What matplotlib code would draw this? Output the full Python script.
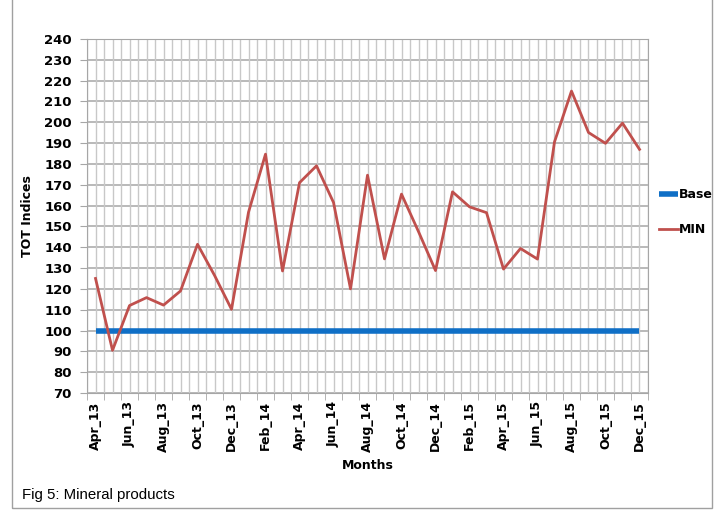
import matplotlib.pyplot as plt
import numpy as np
from matplotlib.patches import Rectangle

months = ['Apr_13', 'May_13', 'Jun_13', 'Jul_13', 'Aug_13', 'Sep_13', 'Oct_13', 'Nov_13', 'Dec_13',
          'Jan_14', 'Feb_14', 'Mar_14', 'Apr_14', 'May_14', 'Jun_14', 'Jul_14', 'Aug_14', 'Sep_14',
          'Oct_14', 'Nov_14', 'Dec_14', 'Jan_15', 'Feb_15', 'Mar_15', 'Apr_15', 'May_15', 'Jun_15',
          'Jul_15', 'Aug_15', 'Sep_15', 'Oct_15', 'Nov_15', 'Dec_15']
base = [100] * len(months)
mineral = [125, 90.5, 112, 115.8, 112.2, 119, 141.4, 126.5, 110.2,
           156.8, 184.7, 128.6, 171, 179.1, 161.5, 120, 174.6, 134.4,
           165.5, 147.5, 128.8, 166.6, 159.4, 156.6, 129.5, 139.4, 134.3,
           190.6, 215, 195.1, 189.9, 199.6, 187]

fig = plt.figure(figsize=(7.18, 5.16), dpi=100)
ax = fig.add_axes([0.1212, 0.2384, 0.9025 - 0.1212, 0.9244 - 0.2384])

x = np.arange(len(months))

# grid: horizontal every 10, vertical every half month
for v in range(70, 241, 10):
    ax.axhline(v, color='#a6a6a6', lw=1.1, zorder=0)
for g in np.arange(-0.5, len(months), 0.5):
    ax.axvline(g, color='#c8c8c8', lw=1.0, zorder=0)

l1, = ax.plot(x, base, color='#0f6fc6', lw=4.0, solid_capstyle='butt', label='Base', zorder=3)
l2, = ax.plot(x, mineral, color='#c0504d', lw=2.0, label='MIN', zorder=4)

ax.set_xlim(-0.5, len(months) - 0.5)
ax.set_ylim(70, 240)
ax.set_yticks(range(70, 241, 10))
ax.set_yticklabels([str(v) for v in range(70, 241, 10)], fontsize=9.5, fontweight='heavy')

ax.set_xticks(x[::2])
ax.set_xticklabels(months[::2], rotation=90, fontsize=9, fontweight='bold')
ax.set_xticks(np.arange(-0.5, len(months), 1), minor=True)
ax.tick_params(axis='x', which='major', length=0, pad=6)
ax.tick_params(axis='x', which='minor', length=5, color='#a6a6a6')
ax.tick_params(axis='y', length=5, color='#a6a6a6', pad=6)

for s in ax.spines.values():
    s.set_color('#a6a6a6')

ax.set_xlabel('Months', fontsize=9, fontweight='bold', labelpad=5)
ax.set_ylabel('TOT Indices', fontsize=9, fontweight='bold', labelpad=7)

fig.legend(handles=[l1, l2], loc='upper left', bbox_to_anchor=(659 / 718, 1 - 188 / 516),
           frameon=False, prop={'weight': 'bold', 'size': 9}, borderpad=0, borderaxespad=0,
           handlelength=1.5, handletextpad=0.1, labelspacing=1.75)

fig.text(22 / 718, 1 - 499 / 516, 'Fig 5: Mineral products', fontsize=10.8,
         family=['Liberation Sans Narrow', 'Liberation Sans'])

# outer chart frame
fig.patches.append(Rectangle((12 / 718, 8 / 516), 700 / 718, 520 / 516, transform=fig.transFigure,
                             fill=False, edgecolor='#a0a0a0', lw=1.0))

fig.savefig('out.png', dpi=100)
